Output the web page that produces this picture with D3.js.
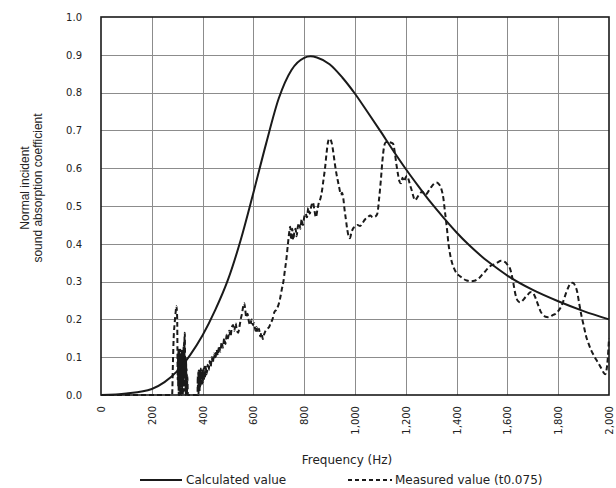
<!DOCTYPE html>
<html>
<head>
<meta charset="utf-8">
<script src="https://cdn.jsdelivr.net/npm/d3@7"></script>
<style>
  body { margin: 0; background: #fff; }
  svg text { font-family: "DejaVu Sans", sans-serif; fill: #222; }
</style>
</head>
<body>
<div id="chart"></div>
<script>
// calculated absorption curve (Hz, coefficient)
const calcFreq = [0, 100, 200, 250, 300, 350, 400, 450, 500, 550, 600, 650, 700, 750, 800, 825, 850, 900, 950, 1000,
  1050, 1100, 1150, 1200, 1250, 1300, 1350, 1400, 1450, 1500, 1550, 1600, 1700, 1800, 1900, 2000];
const calcValue = [0, 0.004, 0.016, 0.034, 0.063, 0.105, 0.158, 0.225, 0.305, 0.41, 0.535, 0.665, 0.785, 0.86, 0.892, 0.896, 0.893, 0.875, 0.84, 0.797,
  0.748, 0.698, 0.647, 0.598, 0.552, 0.508, 0.468, 0.43, 0.396, 0.366, 0.34, 0.316, 0.278, 0.248, 0.222, 0.2];

// measured curve (t0.075)
const measFreq = [0, 280, 283, 286, 290, 294, 297, 299, 300, 301, 302, 303, 304, 305, 306, 307, 308, 309, 310, 311,
  312, 313, 314, 315, 316, 317, 318, 319, 320, 321, 322, 323, 324, 325, 326, 327, 328, 329, 330, 331,
  332, 333, 334, 335, 336, 337, 338, 340, 342, 380, 381, 382, 383, 384, 385, 386, 387, 388, 389, 390,
  391, 392, 393, 394, 396, 398, 400, 402, 404, 406, 408, 410, 412, 416, 420, 424, 428, 432, 436, 440,
  445, 450, 455, 460, 465, 470, 475, 480, 485, 490, 495, 500, 505, 510, 515, 520, 525, 530, 535, 540,
  545, 550, 555, 560, 564, 568, 572, 577, 582, 588, 593, 598, 603, 608, 612, 617, 622, 627, 632, 637,
  642, 648, 655, 662, 668, 675, 683, 690, 697, 705, 712, 718, 724, 730, 736, 741, 745, 749, 753, 757,
  761, 766, 770, 775, 780, 785, 790, 795, 800, 806, 811, 816, 822, 828, 834, 840, 846, 852, 858, 864,
  870, 876, 882, 888, 894, 899, 904, 909, 915, 921, 927, 933, 939, 944, 949, 954, 959, 964, 969, 975,
  980, 986, 992, 1000, 1010, 1020, 1030, 1040, 1050, 1060, 1070, 1080, 1088, 1095, 1102, 1108, 1114, 1120, 1130, 1140,
  1150, 1157, 1163, 1169, 1175, 1181, 1187, 1193, 1199, 1205, 1211, 1217, 1224, 1230, 1236, 1243, 1250, 1258, 1266, 1274,
  1282, 1290, 1300, 1310, 1320, 1330, 1340, 1348, 1355, 1362, 1368, 1375, 1382, 1390, 1400, 1412, 1425, 1440, 1455, 1470,
  1480, 1490, 1500, 1510, 1520, 1530, 1545, 1560, 1575, 1590, 1600, 1610, 1618, 1625, 1632, 1640, 1650, 1660, 1670, 1680,
  1690, 1700, 1710, 1720, 1730, 1740, 1750, 1760, 1770, 1780, 1790, 1800, 1810, 1820, 1830, 1840, 1850, 1858, 1866, 1874,
  1882, 1890, 1900, 1910, 1920, 1930, 1940, 1950, 1960, 1970, 1978, 1985, 1990, 1995, 2000];
const measValue = [0, 0, 0.08, 0.15, 0.19, 0.22, 0.235, 0.22, 0.2, 0.12, 0.04, 0.11, 0.02, 0.12, 0.0, 0.1, 0.03, 0.12, 0.0, 0.11,
  0.02, 0.12, 0.0, 0.1, 0.03, 0.11, 0.0, 0.12, 0.02, 0.1, 0.0, 0.11, 0.03, 0.13, 0.01, 0.14, 0.05, 0.16, 0.165, 0.08,
  0.01, 0.1, 0.0, 0.09, 0.02, 0.07, 0.0, 0.05, 0.0, 0.0, 0.05, 0.01, 0.06, 0.0, 0.065, 0.015, 0.06, 0.01, 0.07, 0.02,
  0.065, 0.025, 0.07, 0.03, 0.065, 0.03, 0.065, 0.035, 0.07, 0.04, 0.075, 0.045, 0.075, 0.055, 0.08, 0.065, 0.09, 0.075, 0.1, 0.085,
  0.11, 0.095, 0.12, 0.105, 0.13, 0.115, 0.14, 0.125, 0.15, 0.135, 0.16, 0.15, 0.17, 0.155, 0.18, 0.185, 0.17, 0.19, 0.17, 0.165,
  0.18, 0.2, 0.215, 0.235, 0.243, 0.225, 0.205, 0.215, 0.195, 0.185, 0.2, 0.185, 0.19, 0.17, 0.18, 0.165, 0.175, 0.155, 0.165, 0.148,
  0.16, 0.17, 0.175, 0.18, 0.19, 0.2, 0.22, 0.225, 0.235, 0.255, 0.28, 0.3, 0.33, 0.36, 0.4, 0.43, 0.445, 0.41, 0.44, 0.41,
  0.43, 0.44, 0.42, 0.445, 0.455, 0.44, 0.465, 0.45, 0.47, 0.48, 0.47, 0.495, 0.48, 0.5, 0.51, 0.49, 0.47, 0.49, 0.51, 0.52,
  0.54, 0.57, 0.6, 0.64, 0.67, 0.678, 0.675, 0.665, 0.64, 0.61, 0.585, 0.565, 0.545, 0.53, 0.535, 0.52, 0.49, 0.465, 0.44, 0.42,
  0.415, 0.43, 0.44, 0.445, 0.45, 0.447, 0.455, 0.465, 0.47, 0.475, 0.47, 0.472, 0.48, 0.52, 0.57, 0.62, 0.655, 0.668, 0.67, 0.668,
  0.665, 0.64, 0.61, 0.585, 0.565, 0.56, 0.575, 0.565, 0.575, 0.58, 0.57, 0.555, 0.54, 0.525, 0.515, 0.52, 0.528, 0.535, 0.538, 0.53,
  0.532, 0.54, 0.55, 0.558, 0.562, 0.558, 0.545, 0.52, 0.48, 0.44, 0.4, 0.37, 0.35, 0.335, 0.322, 0.315, 0.308, 0.303, 0.301, 0.302,
  0.305, 0.31, 0.318, 0.325, 0.333, 0.34, 0.345, 0.35, 0.355, 0.352, 0.345, 0.335, 0.315, 0.29, 0.265, 0.25, 0.245, 0.25, 0.258, 0.265,
  0.272, 0.27, 0.258, 0.24, 0.222, 0.212, 0.207, 0.206, 0.208, 0.212, 0.215, 0.222, 0.232, 0.248, 0.268, 0.285, 0.296, 0.297, 0.29, 0.275,
  0.245, 0.215, 0.185, 0.155, 0.135, 0.118, 0.105, 0.093, 0.082, 0.07, 0.06, 0.055, 0.065, 0.095, 0.15];

const xTicks = [0, 200, 400, 600, 800, 1000, 1200, 1400, 1600, 1800, 2000];
const yTicks = [0, 0.1, 0.2, 0.3, 0.4, 0.5, 0.6, 0.7, 0.8, 0.9, 1.0];

const W = 616, H = 488;
const margin = { top: 17, right: 7, bottom: 93, left: 101 };
const width = W - margin.left - margin.right;
const height = H - margin.top - margin.bottom;

const svg = d3.select('#chart').append('svg')
  .attr('width', W)
  .attr('height', H);

const g = svg.append('g').attr('transform', 'translate(' + margin.left + ',' + margin.top + ')');

const x = d3.scaleLinear().domain([0, 2000]).range([0, width]);
const y = d3.scaleLinear().domain([0, 1]).range([height, 0]);

// grid
g.append('g').selectAll('line').data(xTicks.slice(1, -1)).enter().append('line')
  .attr('x1', d => Math.round(x(d)) + 0.5).attr('x2', d => Math.round(x(d)) + 0.5)
  .attr('y1', 0).attr('y2', height)
  .attr('stroke', '#8c8c8c').attr('stroke-width', 1);
g.append('g').selectAll('line').data(yTicks.slice(1, -1)).enter().append('line')
  .attr('y1', d => Math.round(y(d)) + 0.5).attr('y2', d => Math.round(y(d)) + 0.5)
  .attr('x1', 0).attr('x2', width)
  .attr('stroke', '#8c8c8c').attr('stroke-width', 1);

// frame
g.append('rect')
  .attr('x', 0).attr('y', 0)
  .attr('width', width).attr('height', height)
  .attr('fill', 'none').attr('stroke', '#1a1a1a').attr('stroke-width', 1.6);

// y axis labels
g.append('g')
  .attr('font-size', 12)
  .call(d3.axisLeft(y).tickValues(yTicks).tickFormat(d3.format('.1f')).tickSize(0).tickPadding(19))
  .call(a => a.select('.domain').remove());

// x axis labels, rotated
const xa = g.append('g')
  .attr('transform', 'translate(0,' + height + ')')
  .attr('font-size', 12)
  .call(d3.axisBottom(x).tickValues(xTicks).tickFormat(d3.format(',')).tickSize(0));
xa.select('.domain').remove();
xa.selectAll('text')
  .attr('transform', 'rotate(-90)')
  .attr('text-anchor', 'end')
  .attr('x', -11)
  .attr('y', 0)
  .attr('dy', '0.35em');

const line = d3.line()
  .x(d => x(d[0]))
  .y(d => y(d[1]));

const meas = measFreq.map((f, i) => [f, measValue[i]]);
const calc = calcFreq.map((f, i) => [f, calcValue[i]]);

g.append('path')
  .datum(meas)
  .attr('d', line.curve(d3.curveMonotoneX))
  .attr('fill', 'none')
  .attr('stroke', '#1a1a1a')
  .attr('stroke-width', 2)
  .attr('stroke-dasharray', '5,3');

g.append('path')
  .datum(calc)
  .attr('d', line.curve(d3.curveMonotoneX))
  .attr('fill', 'none')
  .attr('stroke', '#1a1a1a')
  .attr('stroke-width', 2);

// axis titles
svg.append('text')
  .attr('x', 347).attr('y', 464)
  .attr('text-anchor', 'middle')
  .attr('font-size', 12)
  .text('Frequency (Hz)');

const yt = svg.append('text')
  .attr('transform', 'translate(31,188) rotate(-90)')
  .attr('text-anchor', 'middle')
  .attr('font-size', 12)
  .style('font-family', '"Liberation Sans", Arial, sans-serif');
yt.append('tspan').attr('x', 0).attr('dy', '-0.15em').text('Normal incident');
yt.append('tspan').attr('x', 0).attr('dy', '1.1em').text('sound absorption coefficient');

// legend
const legend = svg.append('g').attr('font-size', 12);
legend.append('line')
  .attr('x1', 140).attr('x2', 182).attr('y1', 480).attr('y2', 480)
  .attr('stroke', '#1a1a1a').attr('stroke-width', 1.8);
legend.append('text').attr('x', 186).attr('y', 484).text('Calculated value');
legend.append('line')
  .attr('x1', 348).attr('x2', 392).attr('y1', 480).attr('y2', 480)
  .attr('stroke', '#1a1a1a').attr('stroke-width', 1.8)
  .attr('stroke-dasharray', '4,3');
legend.append('text').attr('x', 395).attr('y', 484).text('Measured value (t0.075)');
</script>
</body>
</html>
